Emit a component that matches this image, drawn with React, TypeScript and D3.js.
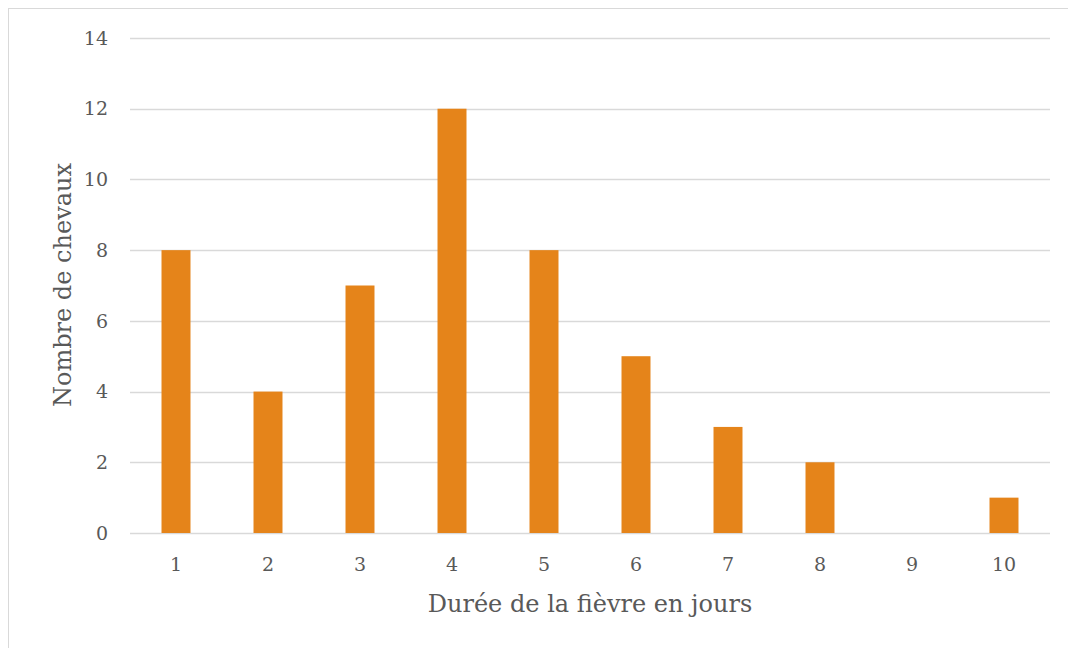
import React, { useEffect, useRef } from "react";
import * as d3 from "d3";

const days = ["1", "2", "3", "4", "5", "6", "7", "8", "9", "10"];
const horses = [8, 4, 7, 12, 8, 5, 3, 2, 0, 1];
const yTicks = [0, 2, 4, 6, 8, 10, 12, 14];

const FONT = "'DejaVu Serif', 'Liberation Serif', serif";
const TEXT = "#595959";

const App = () => {
  const svgRef = useRef<SVGSVGElement>(null);

  useEffect(() => {
    document.body.style.margin = "0";
    const svg = d3.select(svgRef.current);
    svg.selectAll("*").remove();

    const plot = { left: 130, right: 1050, top: 38, bottom: 533 };

    // cadre du graphique
    svg
      .append("rect")
      .attr("x", 8.5)
      .attr("y", 8.5)
      .attr("width", 1100)
      .attr("height", 700)
      .attr("fill", "white")
      .attr("stroke", "#d9d9d9")
      .attr("stroke-width", 1);

    const x = d3.scaleBand().domain(days).range([plot.left, plot.right]).padding(0);
    const y = d3.scaleLinear().domain([0, 14]).range([plot.bottom, plot.top]);

    // grille horizontale
    svg
      .append("g")
      .selectAll("line")
      .data(yTicks)
      .enter()
      .append("line")
      .attr("x1", plot.left)
      .attr("x2", plot.right)
      .attr("y1", (d) => Math.round(y(d)) + 0.5)
      .attr("y2", (d) => Math.round(y(d)) + 0.5)
      .attr("stroke", "#d9d9d9")
      .attr("stroke-width", 1.3);

    svg
      .append("g")
      .selectAll("text")
      .data(yTicks)
      .enter()
      .append("text")
      .attr("x", 108)
      .attr("y", (d) => y(d))
      .attr("dy", "0.35em")
      .attr("text-anchor", "end")
      .style("font-family", FONT)
      .style("font-size", "19px")
      .attr("fill", TEXT)
      .text((d) => d);

    // barres
    const barW = x.bandwidth() * 0.315;
    svg
      .append("g")
      .selectAll("rect")
      .data(horses)
      .enter()
      .append("rect")
      .attr("x", (_, i) => x(days[i])! + x.bandwidth() / 2 - barW / 2)
      .attr("y", (d) => y(d))
      .attr("width", barW)
      .attr("height", (d) => y(0) - y(d))
      .attr("fill", "#E5841A");

    svg
      .append("g")
      .selectAll("text")
      .data(days)
      .enter()
      .append("text")
      .attr("x", (d) => x(d)! + x.bandwidth() / 2)
      .attr("y", 564)
      .attr("dy", "0.35em")
      .attr("text-anchor", "middle")
      .style("font-family", FONT)
      .style("font-size", "19px")
      .attr("fill", TEXT)
      .text((d) => d);

    // titres des axes
    svg
      .append("text")
      .attr("x", 590)
      .attr("y", 612)
      .attr("text-anchor", "middle")
      .style("font-family", FONT)
      .style("font-size", "24px")
      .attr("fill", TEXT)
      .text("Durée de la fièvre en jours");

    svg
      .append("text")
      .attr("transform", `translate(71,285) rotate(-90)`)
      .attr("text-anchor", "middle")
      .style("font-family", FONT)
      .style("font-size", "24px")
      .attr("fill", TEXT)
      .text("Nombre de chevaux");
  }, []);

  return <svg ref={svgRef} width={1068} height={648} style={{ display: "block" }}></svg>;
};

export default App;
